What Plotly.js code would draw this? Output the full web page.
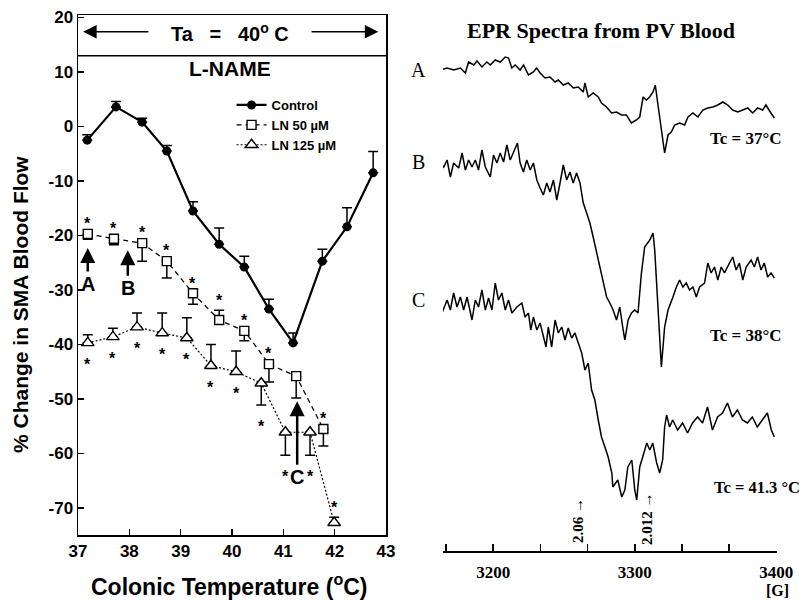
<!DOCTYPE html>
<html><head><meta charset="utf-8">
<script src="https://cdn.plot.ly/plotly-3.0.1.min.js"></script>
<style>html,body{margin:0;padding:0;background:#fff}#chart{width:804px;height:600px}</style>
</head><body><div id="chart"></div>
<script>
// ---------- Left panel: SMA blood flow vs colonic temperature ----------
const controlTemp = [37.18,37.74,38.25,38.73,39.24,39.75,40.24,40.72,41.19,41.76,42.24,42.75];
const controlFlow = [-2.5,3.6,0.8,-4.5,-15.5,-21.6,-25.8,-33.5,-39.7,-24.7,-18.4,-8.5];
const controlSEup = [1.0,1.0,0.7,1.0,1.7,3.0,2.0,1.8,1.8,2.2,3.5,3.9];
const controlSEdown = [0,0,0,0,0,0,0,0,0,0,0,0];

const ln50Temp = [37.19,37.70,38.25,38.73,39.24,39.75,40.24,40.72,41.25,41.78];
const ln50Flow = [-19.7,-20.6,-21.4,-24.7,-30.6,-35.5,-37.5,-43.6,-45.8,-55.5];
const ln50SEup = [0,0,0,0,0,1.8,0,0,0,0];
const ln50SEdown = [1.0,1.1,3.3,3.1,2.0,0,1.8,3.3,4.0,3.1];
const ln50Sig = [1,1,1,1,1,1,1,1,0,1];      // +1 star above, -1 below, 0 none

const ln125Temp = [37.19,37.68,38.15,38.64,39.12,39.59,40.08,40.57,41.04,41.52,41.99];
const ln125Flow = [-39.7,-38.6,-36.8,-37.9,-38.8,-43.9,-45.0,-47.1,-56.1,-56.1,-72.7];
const ln125SEup = [1.5,1.6,2.6,3.7,3.7,3.9,3.8,0,0,0,1.0];
const ln125SEdown = [0,0,0,0,0,0,0,4.0,4.2,4.2,0];
const ln125Sig = [-1,-1,-1,-1,-1,-1,-1,-1,-1,-1,1];

const tempTicks = [37,38,39,40,41,42,43];
const flowTicks = [20,10,0,-10,-20,-30,-40,-50,-60,-70];
const flowTickText = ['20','10','0','-10','-20','-30','-40','-50','-60','-70'];

// ---------- Right panel: EPR spectra (field in G, intensity in a.u.) ----------
const specAField = [3162.7,3167.4,3172.1,3176.8,3180.3,3182.6,3186.2,3188.5,3192.0,3195.5,3197.9,3201.4,3204.9,3208.5,3210.8,3213.1,3215.5,3219.0,3221.4,3224.9,3228.4,3230.7,3233.1,3236.6,3240.1,3243.7,3246.0,3249.5,3253.0,3256.6,3260.1,3263.6,3264.8,3267.1,3270.6,3274.2,3276.5,3280.0,3283.6,3287.1,3290.6,3294.1,3297.6,3301.2,3303.5,3305.9,3308.2,3310.5,3312.9,3314.5,3316.4,3318.8,3321.1,3323.5,3325.8,3328.2,3331.7,3335.2,3337.6,3341.1,3344.6,3348.1,3351.6,3355.2,3358.7,3362.2,3365.7,3369.2,3372.8,3376.3,3379.8,3383.3,3386.8,3390.4,3392.7,3396.2,3398.6];
const specAInt = [30,32,30,32,27,38,35,39,33,38,35,40,38,43,42,32,35,30,35,25,28,32,27,22,23,18,20,15,17,12,13,8,17,3,7,3,-3,-7,-13,-12,-15,-15,-23,-20,-17,3,0,3,8,15,-5,-27,-53,-35,-32,-25,-23,-25,-17,-13,-17,-10,-8,-7,-5,-2,-5,-10,-12,-10,-8,-13,-8,-10,-5,-13,-18];

const specBField = [3162.7,3165.0,3167.4,3169.7,3172.0,3175.6,3178.0,3180.3,3182.6,3185.0,3187.3,3189.6,3192.0,3194.4,3197.9,3200.2,3202.6,3204.9,3207.3,3209.6,3212.0,3214.3,3217.1,3219.0,3221.3,3223.7,3226.1,3228.4,3230.8,3233.1,3235.4,3237.8,3240.1,3242.5,3244.9,3247.2,3249.5,3251.9,3254.2,3256.5,3258.9,3261.3,3263.6,3266.0,3268.3,3270.6,3273.0,3275.4,3277.7,3280.1,3282.4,3284.7,3287.1,3289.4,3291.8,3293.0,3295.3,3297.7,3300.0,3302.3,3304.7,3307.0,3310.6,3312.9,3314.1,3316.4,3318.8,3321.1,3323.5,3327.0,3329.4,3331.7,3334.0,3336.4,3338.7,3341.1,3343.5,3345.8,3349.3,3351.6,3354.0,3356.3,3358.7,3361.1,3363.4,3366.9,3369.2,3371.6,3373.9,3376.3,3378.7,3382.2,3384.5,3386.8,3389.2,3391.5,3393.9,3396.3,3398.6];
const specBInt = [2,-2,5,-12,2,-3,12,-5,5,-2,5,-5,15,-2,-12,10,2,12,3,20,5,12,22,2,-7,5,-5,2,-15,-23,-30,-18,-27,-15,-35,-18,0,-15,-7,-18,-8,-18,-38,-48,-58,-72,-88,-102,-118,-132,-138,-145,-155,-142,-165,-175,-155,-148,-145,-148,-108,-82,-75,-68,-85,-148,-202,-162,-145,-132,-122,-115,-122,-118,-125,-122,-132,-122,-118,-98,-108,-102,-115,-102,-108,-98,-92,-105,-98,-115,-102,-95,-102,-92,-105,-98,-112,-108,-113];

const specCField = [3162.7,3165.0,3167.4,3169.7,3172.0,3174.4,3176.8,3179.1,3181.5,3185.0,3187.3,3189.6,3192.0,3194.4,3196.7,3199.1,3201.4,3203.7,3206.1,3208.5,3210.8,3213.2,3216.7,3220.2,3222.5,3224.9,3226.5,3228.4,3230.8,3233.1,3235.4,3237.3,3238.9,3241.3,3243.7,3246.0,3248.4,3250.7,3253.0,3255.4,3257.7,3260.1,3262.5,3264.8,3267.1,3269.5,3271.8,3274.2,3276.5,3278.9,3281.2,3283.8,3284.5,3288.0,3290.8,3293.0,3295.1,3297.9,3300.0,3301.4,3303.5,3305.6,3308.5,3310.6,3312.7,3315.5,3317.6,3319.7,3321.1,3322.5,3324.6,3326.8,3330.3,3333.8,3337.3,3340.8,3344.4,3347.9,3351.4,3354.9,3358.5,3362.0,3365.5,3369.0,3372.5,3376.1,3379.6,3383.1,3386.6,3390.1,3393.7,3396.5,3398.6];
const specCInt = [-7,2,10,0,17,3,13,0,13,-10,10,3,20,0,12,0,27,10,17,0,10,-3,3,7,-7,-3,-20,-7,-20,-13,-28,-37,-17,-37,-10,-23,-17,-30,-18,-28,-23,-33,-43,-60,-53,-80,-90,-110,-127,-137,-147,-163,-177,-170,-187,-180,-157,-150,-180,-190,-157,-147,-133,-140,-133,-153,-163,-150,-117,-105,-117,-110,-120,-113,-123,-113,-107,-113,-97,-120,-107,-103,-93,-107,-100,-110,-113,-107,-117,-110,-103,-120,-127];

const fieldTicks = [3166.67,3200,3233.33,3266.67,3300,3333.33,3366.67,3400];
const fieldTickText = ['','3200','','','3300','','','3400'];

// stacking offsets (layout only)
const offA = 451, offB = 386, offC = 241;

const sans = 'Liberation Sans, Arial, Helvetica, sans-serif';
const serif = 'Liberation Serif, Times New Roman, serif';

const data = [
  { x: controlTemp, y: controlFlow, name: 'Control', type: 'scatter', mode: 'lines+markers',
    xaxis: 'x', yaxis: 'y',
    line: { color: '#000', width: 2.2 },
    marker: { symbol: 'circle', size: 9, color: '#000' },
    error_y: { type: 'data', symmetric: false, array: controlSEup, arrayminus: controlSEdown,
               color: '#000', thickness: 1.5, width: 5 } },
  { x: ln50Temp, y: ln50Flow, name: 'LN 50 µM', type: 'scatter', mode: 'lines+markers',
    xaxis: 'x', yaxis: 'y',
    line: { color: '#000', width: 1.3, dash: '5px,4px' },
    marker: { symbol: 'square', size: 9, color: '#fff', line: { color: '#000', width: 1.4 } },
    error_y: { type: 'data', symmetric: false, array: ln50SEup, arrayminus: ln50SEdown,
               color: '#000', thickness: 1.5, width: 5 } },
  { x: ln125Temp, y: ln125Flow, name: 'LN 125 µM', type: 'scatter', mode: 'lines+markers',
    xaxis: 'x', yaxis: 'y',
    line: { color: '#000', width: 1.2, dash: '2px,2px' },
    marker: { symbol: 'triangle-up', size: 11, color: '#fff', line: { color: '#000', width: 1.4 } },
    error_y: { type: 'data', symmetric: false, array: ln125SEup, arrayminus: ln125SEdown,
               color: '#000', thickness: 1.5, width: 5 } },
  { x: specAField, y: specAInt.map(v => v + offA), type: 'scatter', mode: 'lines', showlegend: false,
    xaxis: 'x2', yaxis: 'y2', line: { color: '#000', width: 1.5 } },
  { x: specBField, y: specBInt.map(v => v + offB), type: 'scatter', mode: 'lines', showlegend: false,
    xaxis: 'x2', yaxis: 'y2', line: { color: '#000', width: 1.5 } },
  { x: specCField, y: specCInt.map(v => v + offC), type: 'scatter', mode: 'lines', showlegend: false,
    xaxis: 'x2', yaxis: 'y2', line: { color: '#000', width: 1.5 } }
];

const annotations = [];
function addStars(xs, ys, up, down, sig) {
  xs.forEach((x, i) => {
    if (!sig[i]) return;
    const y = sig[i] > 0 ? ys[i] + up[i] + 2.6 : ys[i] - down[i] - 3.2;
    annotations.push({ x: x, y: y, xref: 'x', yref: 'y', text: '*', showarrow: false,
      xanchor: 'center', yanchor: 'middle',
      yshift: -4, font: { family: sans, size: 16, weight: 'bold', color: '#000' } });
  });
}
addStars(ln50Temp, ln50Flow, ln50SEup, ln50SEdown, ln50Sig);
addStars(ln125Temp, ln125Flow, ln125SEup, ln125SEdown, ln125Sig);

function pText(px, py, text, font, extra) {
  return Object.assign({ x: px/804, y: 1 - py/600, xref: 'paper', yref: 'paper', text: text,
    showarrow: false, xanchor: 'center', yanchor: 'middle', font: font }, extra || {});
}

const nb = '\u00a0';
annotations.push(
  { x: 39.96, y: 17.2, xref: 'x', yref: 'y', xanchor: 'center', yanchor: 'middle',
    text: 'Ta' + nb + nb + nb + '=' + nb + nb + nb + '40<sup>o</sup> C', showarrow: false,
    font: { family: sans, size: 20, weight: 'bold' } },
  { x: 37.10, y: 17.4, xref: 'x', yref: 'y', ax: 38.40, ay: 17.4, axref: 'x', ayref: 'y', text: '',
    showarrow: true, arrowhead: 2, arrowsize: 1.8, arrowwidth: 1.5, arrowcolor: '#000' },
  { x: 42.85, y: 17.4, xref: 'x', yref: 'y', ax: 41.52, ay: 17.4, axref: 'x', ayref: 'y', text: '',
    showarrow: true, arrowhead: 2, arrowsize: 1.8, arrowwidth: 1.5, arrowcolor: '#000' },
  { x: 39.96, y: 10.7, xref: 'x', yref: 'y', xanchor: 'center', yanchor: 'middle',
    text: 'L-NAME', showarrow: false, font: { family: sans, size: 21, weight: 'bold' } },
  { x: 37.19, y: -22.3, xref: 'x', yref: 'y', text: 'A', showarrow: true, ax: 0, ay: 36,
    arrowhead: 2, arrowsize: 1.2, arrowwidth: 2.5, arrowcolor: '#000',
    font: { family: sans, size: 20, weight: 'bold' } },
  { x: 37.97, y: -22.7, xref: 'x', yref: 'y', text: 'B', showarrow: true, ax: 0, ay: 38,
    arrowhead: 2, arrowsize: 1.2, arrowwidth: 2.5, arrowcolor: '#000',
    font: { family: sans, size: 20, weight: 'bold' } },
  { x: 41.27, y: -50.4, xref: 'x', yref: 'y', text: 'C', showarrow: true, ax: 0, ay: 76,
    arrowhead: 2, arrowsize: 1.2, arrowwidth: 2.5, arrowcolor: '#000',
    font: { family: sans, size: 20, weight: 'bold' } },
  pText(20, 305, '% Change in SMA Blood Flow', { family: sans, size: 21, weight: 'bold' }, { textangle: -90 }),
  pText(229, 585, 'Colonic Temperature (<sup>o</sup>C)', { family: sans, size: 23, weight: 'bold' }),
  // right panel texts
  pText(601, 31, 'EPR Spectra from PV Blood', { family: serif, size: 22, weight: 'bold' }),
  pText(418, 70, 'A', { family: serif, size: 20 }),
  pText(418, 162, 'B', { family: serif, size: 20 }),
  pText(418, 300, 'C', { family: serif, size: 20 }),
  pText(746, 138, 'Tc = 37°C', { family: serif, size: 17, weight: 'bold' }),
  pText(746, 335, 'Tc = 38°C', { family: serif, size: 17, weight: 'bold' }),
  pText(757, 487, 'Tc = 41.3 °C', { family: serif, size: 16.5, weight: 'bold' }),
  pText(578, 521, '2.06 →', { family: serif, size: 15, weight: 'bold' }, { textangle: -90 }),
  pText(647, 519, '2.012 →', { family: serif, size: 15, weight: 'bold' }, { textangle: -90 }),
  pText(777, 590, '[G]', { family: serif, size: 16, weight: 'bold' })
);

const layout = {
  width: 804, height: 600,
  margin: { l: 0, r: 0, t: 0, b: 0 },
  paper_bgcolor: '#fff', plot_bgcolor: '#fff',
  font: { family: sans, color: '#000' },
  showlegend: true,
  legend: { x: 0.288, y: 1 - 90/600, xanchor: 'left', yanchor: 'top', bgcolor: 'rgba(0,0,0,0)',
            font: { family: sans, size: 13, weight: 'bold', color: '#000' }, itemwidth: 30 },
  xaxis: { domain: [78/804, 386/804], anchor: 'y', range: [37, 43], tickvals: tempTicks,
    ticks: 'inside', ticklen: 6, tickwidth: 1.5, tickcolor: '#000',
    showline: true, linewidth: 1.5, linecolor: '#000', mirror: true,
    showgrid: false, zeroline: false,
    tickfont: { family: sans, size: 17, weight: 'bold' } },
  yaxis: { domain: [1 - 535/600, 1 - 15/600], anchor: 'x', range: [-74.95, 20.46],
    tickvals: flowTicks, ticktext: flowTickText,
    ticks: 'inside', ticklen: 6, tickwidth: 1.5, tickcolor: '#000',
    showline: true, linewidth: 1.5, linecolor: '#000', mirror: true,
    showgrid: false, zeroline: false,
    tickfont: { family: sans, size: 17, weight: 'bold' } },
  xaxis2: { domain: [443/804, 777/804], anchor: 'y2', range: [3164.5, 3400.5],
    tickvals: fieldTicks, ticktext: fieldTickText,
    ticks: 'inside', ticklen: 7, tickwidth: 1.5, tickcolor: '#000',
    showline: true, linewidth: 1.5, linecolor: '#000', mirror: false,
    showgrid: false, zeroline: false, ticklabelstandoff: 5,
    tickfont: { family: serif, size: 17, weight: 'bold' } },
  yaxis2: { domain: [1 - 551/600, 1 - 55/600], anchor: 'x2', range: [0, 496], visible: false },
  shapes: [
    { type: 'line', xref: 'x domain', yref: 'y', x0: 0, x1: 1, y0: 13, y1: 13,
      line: { color: '#000', width: 1.5 } }
  ],
  annotations: annotations
};

Plotly.newPlot('chart', data, layout, { staticPlot: true, displayModeBar: false });
</script>
</body></html>
